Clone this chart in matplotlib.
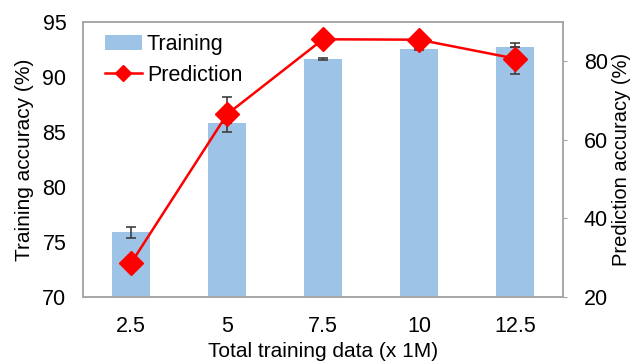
import matplotlib
matplotlib.use("Agg")
import matplotlib.pyplot as plt
import numpy as np

categories = ["2.5", "5", "7.5", "10", "12.5"]
training_acc = [75.9, 85.8, 91.65, 92.55, 92.75]
training_err = [0.5, 0.0, 0.12, 0.1, 0.0]
prediction_acc = [28.6, 66.5, 85.6, 85.5, 80.7]
prediction_err = [0.0, 4.5, 0.0, 0.6, 4.0]

plt.rcParams["font.family"] = ["Liberation Sans", "DejaVu Sans"]
plt.rcParams["font.size"] = 15.5

fig = plt.figure(figsize=(6.34, 3.62), dpi=100)
ax = fig.add_axes([83 / 634, 65 / 362, 480 / 634, 275 / 362])
x = np.arange(len(categories))

bars = ax.bar(x, training_acc, width=0.4, color="#9DC3E6", label="Training", zorder=2)
ax.errorbar(x, training_acc, yerr=training_err, fmt="none", ecolor="#404040",
            elinewidth=1.2, capsize=3.5, capthick=1.2, zorder=3)
ax.set_ylim(70, 95)
ax.set_yticks([70, 75, 80, 85, 90, 95])
ax.set_xlim(-0.5, len(categories) - 0.5)
ax.set_xticks(x)
ax.set_xticklabels(categories)
ax.set_ylabel("Training accuracy (%)", fontsize=15, labelpad=6)
ax.set_xlabel("Total training data (x 1M)", fontsize=15, labelpad=3)
ax.tick_params(axis="y", length=0, pad=12)
ax.tick_params(axis="x", length=0, pad=14)

ax2 = ax.twinx()
ax2.errorbar(x, prediction_acc, yerr=prediction_err, fmt="none", ecolor="#404040",
             elinewidth=1.2, capsize=3.5, capthick=1.2, zorder=3)
line, = ax2.plot(x, prediction_acc, color="#FF0000", lw=1.8, marker="D",
                 markersize=12, label="Prediction", zorder=4)
ax2.set_ylim(20, 90)
ax2.set_yticks([20, 40, 60, 80])
ax2.set_ylabel("Prediction accuracy (%)", fontsize=14.5, labelpad=3)
ax2.tick_params(axis="y", direction="out", length=3, color="#A6A6A6", pad=12)

for a in (ax, ax2):
    for s in a.spines.values():
        s.set_color("#A6A6A6")
        s.set_linewidth(1.2)

ax.legend([bars, line], ["Training", "Prediction"], loc="upper left",
          bbox_to_anchor=(0.012, 1.015), frameon=False, fontsize=15.5,
          handlelength=1.7, handletextpad=0.25, borderaxespad=0.35,
          labelspacing=0.45, markerscale=0.65)

fig.savefig("out.png", dpi=100)
